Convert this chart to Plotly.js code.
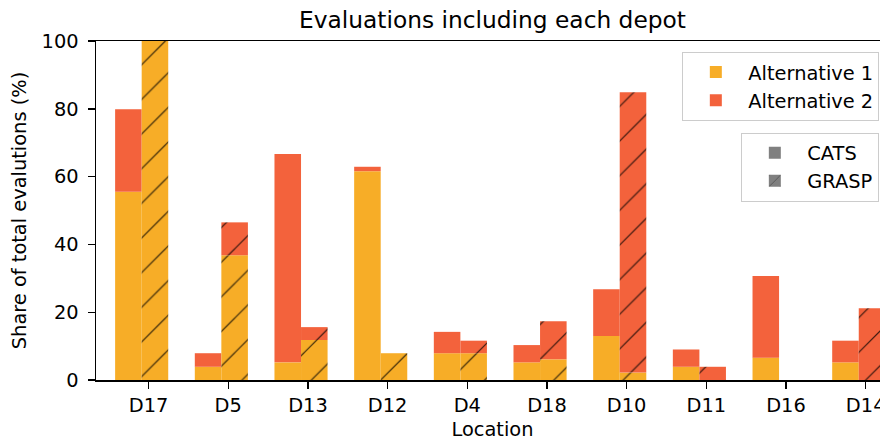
<!DOCTYPE html>
<html>
<head>
<meta charset="utf-8">
<script src="https://cdn.plot.ly/plotly-3.0.1.min.js"></script>
<style>
html, body { margin: 0; padding: 0; overflow: hidden; background: #fff; }
#chart { width: 900px; height: 443px; }
</style>
</head>
<body>
<div id="chart"></div>
<script>
const locations = ['D17', 'D5', 'D13', 'D12', 'D4', 'D18', 'D10', 'D11', 'D16', 'D14'];
const catsAlt1  = [55.5, 3.9, 5.2, 61.6, 7.9, 5.2, 13.0, 3.9, 6.6, 5.2];
const catsAlt2  = [24.4, 4.0, 61.5, 1.3, 6.3, 5.1, 13.8, 5.1, 24.1, 6.4];
const graspAlt1 = [100, 36.8, 11.8, 7.9, 7.9, 6.1, 2.2, 0, 0, 0];
const graspAlt2 = [0, 9.7, 3.8, 0, 3.7, 11.2, 82.7, 3.9, 0, 21.2];
const yTicks = [0, 20, 40, 60, 80, 100];

const ORANGE = 'rgb(247,173,39)';
const RED = 'rgb(243,98,60)';
const GREY = 'rgb(128,128,128)';
const FONT = 'DejaVu Sans, sans-serif';
const BW = 0.3333;
function hatch(bg, size) {
  return {shape: '/', fgcolor: '#000', fgopacity: 0.75, bgcolor: bg, size: size, solidity: 0.05, fillmode: 'replace'};
}

const traces = [
  {type: 'bar', x: locations, y: catsAlt1, width: BW, offset: -0.42,
   marker: {color: ORANGE, line: {width: 0}}, name: 'Alternative 1', legend: 'legend', hoverinfo: 'skip'},
  {type: 'bar', x: locations, y: catsAlt2, base: catsAlt1, width: BW, offset: -0.42,
   marker: {color: RED, line: {width: 0}}, name: 'Alternative 2', legend: 'legend', hoverinfo: 'skip'},
  {type: 'bar', x: locations, y: graspAlt1, width: BW, offset: -0.0867,
   marker: {color: ORANGE, line: {width: 0}, pattern: hatch(ORANGE, 24.5)}, showlegend: false, hoverinfo: 'skip'},
  {type: 'bar', x: locations, y: graspAlt2, base: graspAlt1, width: BW, offset: -0.0867,
   marker: {color: RED, line: {width: 0}, pattern: hatch(RED, 24.5)}, showlegend: false, hoverinfo: 'skip'},
  {type: 'bar', x: [locations[0]], y: [0], width: BW, offset: -0.42, name: 'CATS', legend: 'legend2', showlegend: true,
   marker: {color: GREY, line: {width: 0}}, hoverinfo: 'skip'},
  {type: 'bar', x: [locations[0]], y: [0], width: BW, offset: -0.0867, name: 'GRASP', legend: 'legend2', showlegend: true,
   marker: {color: GREY, line: {width: 0}, pattern: hatch(GREY, 14)}, hoverinfo: 'skip'}
];

const legendBase = {
  xanchor: 'right', yanchor: 'top', itemwidth: 55,
  bgcolor: 'rgba(255,255,255,0.8)', bordercolor: '#cccccc', borderwidth: 1,
  font: {family: FONT, size: 19.4, color: '#000'}
};

const layout = {
  width: 900, height: 443,
  margin: {l: 96, r: 11, t: 41, b: 63},
  paper_bgcolor: '#fff', plot_bgcolor: '#fff',
  barmode: 'overlay',
  font: {family: FONT, size: 19.4, color: '#000'},
  title: {text: 'Evaluations including each depot', font: {family: FONT, size: 23.3, color: '#000'},
          x: 0.5, xref: 'paper', y: 1 - 20 / 443, yref: 'container', yanchor: 'middle'},
  xaxis: {
    type: 'category', range: [-0.66, 9.293],
    showline: true, mirror: true, linecolor: '#000', linewidth: 1.5,
    ticks: 'outside', ticklen: 7, tickwidth: 1.4, tickcolor: '#000',
    showgrid: false, zeroline: false,
    tickfont: {family: FONT, size: 19.4, color: '#000'},
    title: {text: 'Location', font: {family: FONT, size: 19.4, color: '#000'}, standoff: 6}
  },
  yaxis: {
    range: [0, 100], tickvals: yTicks, ticktext: yTicks.map(String),
    showline: true, mirror: true, linecolor: '#000', linewidth: 1.5,
    ticks: 'outside', ticklen: 7, tickwidth: 1.4, tickcolor: '#000',
    ticklabelstandoff: 5,
    showgrid: false, zeroline: false,
    tickfont: {family: FONT, size: 19.4, color: '#000'},
    title: {text: 'Share of total evalutions (%)', font: {family: FONT, size: 19.4, color: '#000'}, standoff: 10}
  },
  legend: Object.assign({}, legendBase, {x: 0.9878, y: 0.9676}),
  legend2: Object.assign({}, legendBase, {x: 0.9878, y: 0.730}),
  showlegend: true
};

Plotly.newPlot('chart', traces, layout, {displayModeBar: false, staticPlot: true});
</script>
</body>
</html>
